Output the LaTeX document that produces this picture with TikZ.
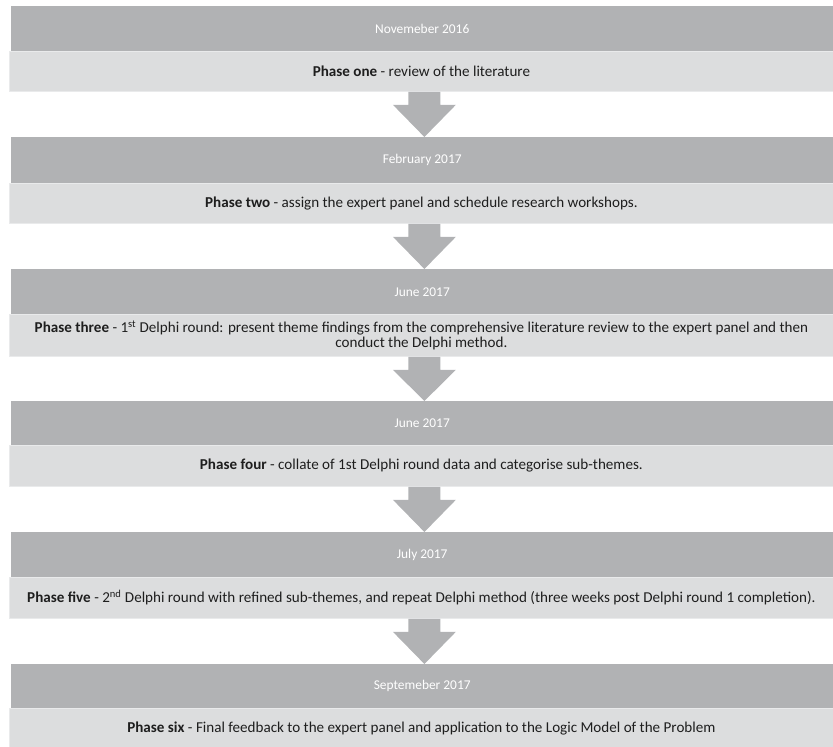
\documentclass[tikz,border=0pt]{standalone}
\usepackage{fontspec}
\setmainfont{Carlito}
\usetikzlibrary{calc}
\definecolor{bandDark}{HTML}{B1B2B4}
\definecolor{bandLight}{HTML}{DCDDDE}
\definecolor{bandEdge}{HTML}{E9EAEB}
\definecolor{txtDark}{HTML}{1E1E1E}
\tikzset{
  darkband/.style={fill=bandDark, text=white, anchor=north west, inner sep=0pt,
    minimum width=822pt, font=\fontsize{13.4}{15}\selectfont, align=center},
  lightband/.style={fill=bandLight, draw=bandEdge, line width=0.8pt, text=txtDark, anchor=north west, inner sep=0pt,
    minimum width=824pt, font=\fontsize{15.1}{15.5}\selectfont, align=center},
}
\newcommand\phasearrow[2]{%
  \fill[bandDark] let \p1=(#1.south), \p2=(#2.north) in
    (\x1+3pt-16pt,\y1) -- (\x1+3pt+16pt,\y1) -- (\x1+3pt+16pt,\y1-13pt)
    -- (\x1+3pt+31.5pt,\y1-13pt) -- (\x1+3pt,\y2) -- (\x1+3pt-31.5pt,\y1-13pt)
    -- (\x1+3pt-16pt,\y1-13pt) -- cycle;}
\begin{document}
\begin{tikzpicture}[x=1pt,y=-1pt]
\useasboundingbox (0,0) rectangle (833,747);
% band 1
\node[darkband, minimum height=45pt] (d1) at (11,6) {Novemeber 2016};
\node[lightband, minimum height=40pt] (l1) at (9,51) {\textbf{Phase one} - review of the literature};
% band 2
\node[darkband, minimum height=46pt] (d2) at (11,137) {February 2017};
\node[lightband, minimum height=40pt] (l2) at (9,183) {\textbf{Phase two} - assign the expert panel and schedule research workshops.};
% band 3
\node[darkband, minimum height=45pt] (d3) at (11,269) {June 2017};
\node[lightband, minimum height=42pt] (l3) at (9,314) {\textbf{Phase three} - 1\textsuperscript{st} Delphi round: present theme findings from the comprehensive literature review to the expert panel and then\\conduct the Delphi method.};
% band 4
\node[darkband, minimum height=44pt] (d4) at (11,401) {June 2017};
\node[lightband, minimum height=41pt] (l4) at (9,445) {\textbf{Phase four} - collate of 1st Delphi round data and categorise sub-themes.};
% band 5
\node[darkband, minimum height=45pt] (d5) at (11,532) {July 2017};
\node[lightband, minimum height=41pt] (l5) at (9,577) {\textbf{Phase five} - 2\textsuperscript{nd} Delphi round with refined sub-themes, and repeat Delphi method (three weeks post Delphi round 1 completion).};
% band 6
\node[darkband, minimum height=44pt] (d6) at (11,664) {Septemeber 2017};
\node[lightband, minimum height=40pt] (l6) at (9,708) {\textbf{Phase six} - Final feedback to the expert panel and application to the Logic Model of the Problem};
% arrows
\phasearrow{l1}{d2}
\phasearrow{l2}{d3}
\phasearrow{l3}{d4}
\phasearrow{l4}{d5}
\phasearrow{l5}{d6}
\end{tikzpicture}
\end{document}
